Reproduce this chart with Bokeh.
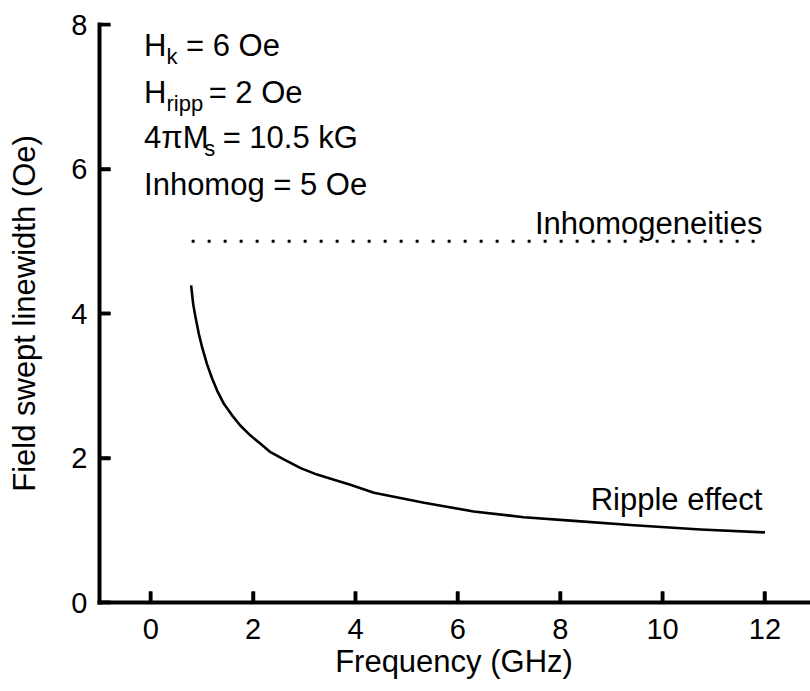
from bokeh.plotting import figure
from bokeh.models import Label, FixedTicker
from bokeh.embed import file_html
from bokeh.resources import INLINE

# ---- data ----
freq_ghz = [0.79, 0.83, 0.875, 0.94, 1.005, 1.10, 1.20, 1.30, 1.43, 1.59, 1.75,
            1.95, 2.14, 2.34, 2.60, 2.93, 3.25, 3.58, 3.90, 4.36, 5.34, 6.31,
            7.29, 8.27, 9.44, 10.74, 12.0]
ripple_oe = [4.39, 4.13, 3.95, 3.72, 3.53, 3.30, 3.10, 2.93, 2.75, 2.59, 2.45,
             2.31, 2.20, 2.08, 1.98, 1.86, 1.77, 1.70, 1.63, 1.52, 1.38, 1.26,
             1.18, 1.13, 1.07, 1.01, 0.97]
inhomog_x = [0.8, 12.0]
inhomog_y = [5.0, 5.0]
x_ticks = [0, 2, 4, 6, 8, 10, 12]
y_ticks = [0, 2, 4, 6, 8]

FONT = "Liberation Sans"
X0, X1 = -1, 12.85
Y0, Y1 = 0, 8

p = figure(width=810, height=691, x_range=(X0, X1), y_range=(Y0, Y1),
           output_backend="svg", toolbar_location=None,
           min_border_left=99, min_border_right=2, min_border_top=24,
           min_border_bottom=89)
p.outline_line_color = None
p.xgrid.visible = False
p.ygrid.visible = False
p.background_fill_color = "white"
p.border_fill_color = "white"

p.line(freq_ghz, ripple_oe, line_color="black", line_width=2.6,
       line_join="round")
p.line(inhomog_x, inhomog_y, line_color="black", line_width=3,
       line_dash="3 13", line_cap="butt")

# inward tick marks (11 px long), drawn from the tick lists
tick_dx = 11 / 51.19
tick_dy = 11 / 72.25
p.segment(x0=x_ticks, y0=[Y0] * len(x_ticks), x1=x_ticks,
          y1=[Y0 + tick_dy] * len(x_ticks), line_color="black", line_width=3.5)
p.segment(x0=[X0] * len(y_ticks), y0=y_ticks, x1=[X0 + tick_dx] * len(y_ticks),
          y1=y_ticks, line_color="black", line_width=3.5)

for ax, ticks in ((p.xaxis[0], x_ticks), (p.yaxis[0], y_ticks)):
    ax.ticker = FixedTicker(ticks=ticks)
    ax.axis_line_width = 4
    ax.axis_line_color = "black"
    ax.axis_line_cap = "square"
    ax.major_tick_line_width = 3.5
    ax.major_tick_line_color = "black"
    ax.major_tick_in = 11
    ax.major_tick_out = 0
    ax.minor_tick_line_color = None
    ax.major_label_text_font = FONT
    ax.major_label_text_font_size = "29px"
    ax.major_label_text_color = "black"
    ax.axis_label_text_font = FONT
    ax.axis_label_text_font_size = "31px"
    ax.axis_label_text_font_style = "normal"
    ax.axis_label_text_color = "black"

p.xaxis.axis_label = "Frequency (GHz)"
p.yaxis.axis_label = "Field swept linewidth (Oe)"
p.xaxis.major_label_standoff = 16
p.xaxis.axis_label_standoff = 2
p.yaxis.major_label_standoff = 12
p.yaxis.axis_label_standoff = 26


def lab(x, y, text, size, xoff=0, align="left"):
    p.add_layout(Label(x=x, y=y, x_offset=xoff, text=text, text_font=FONT,
                       text_font_size=size, text_color="black",
                       text_align=align, text_baseline="alphabetic"))


x0 = -0.13
sub_drop = 0.15
MAIN = "31px"
SUB = "22px"

lab(x0, 7.709, "H", MAIN)
lab(x0, 7.709 - sub_drop, "k", SUB, xoff=22.4)
lab(x0, 7.709, "= 6 Oe", MAIN, xoff=42.0)

lab(x0, 7.059, "H", MAIN)
lab(x0, 7.059 - sub_drop, "ripp", SUB, xoff=22.4)
lab(x0, 7.059, "= 2 Oe", MAIN, xoff=64.6)

lab(x0, 6.436, "4πM", MAIN)
lab(x0, 6.436 - sub_drop, "s", SUB, xoff=60.3)
lab(x0, 6.436, "= 10.5 kG", MAIN, xoff=78.6)

lab(x0, 5.785, "Inhomog = 5 Oe", MAIN)

lab(11.95, 5.25, "Inhomogeneities", MAIN, align="right")
lab(11.95, 1.42, "Ripple effect", MAIN, align="right")

open("out.html", "w").write(file_html(p, INLINE))
